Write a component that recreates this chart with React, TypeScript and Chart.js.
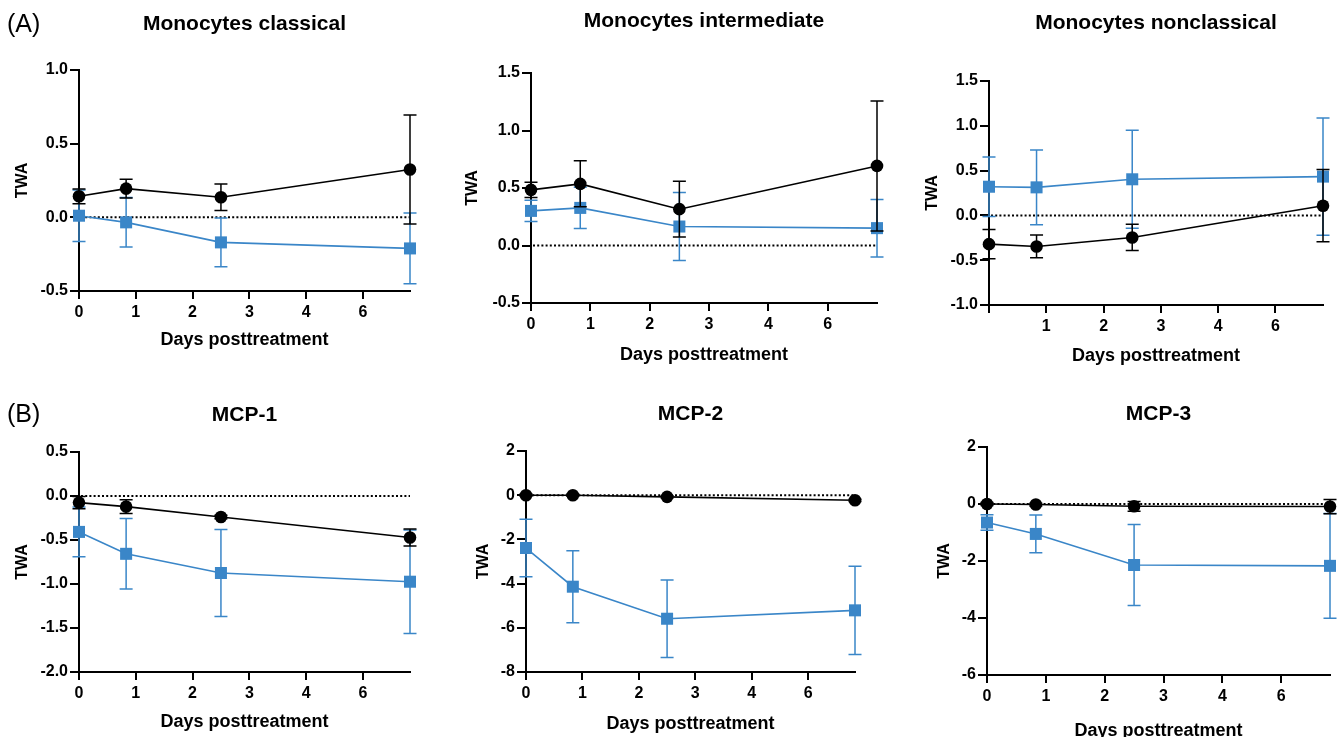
import React, { useEffect, useRef } from "react";
import { Chart, registerables } from "chart.js";

Chart.register(...registerables);

const FONT = "'Liberation Sans', Arial, Helvetica, sans-serif";
const BLACK = "#000000";
const BLUE = "#3A86C8";

// x positions of the sampling points on the (evenly spaced) day axis
const dayPositions = [0, 0.83, 2.5, 5.83];
const xTickPositions = [0, 1, 2, 3, 4, 5];
const xTickLabels = ["0", "1", "2", "3", "4", "6"];
const xTickLabelsNoZero = ["", "1", "2", "3", "4", "6"];

// Monocytes classical
const classicalBlack = [0.143, 0.195, 0.136, 0.325];
const classicalBlackErr = [0.05, 0.063, 0.09, 0.37];
const classicalBlue = [0.011, -0.034, -0.17, -0.211];
const classicalBlueErr = [0.175, 0.168, 0.165, 0.24];
const classicalYTicks = [-0.5, 0, 0.5, 1.0];

// Monocytes intermediate
const intermediateBlack = [0.484, 0.536, 0.316, 0.692];
const intermediateBlackErr = [0.067, 0.2, 0.243, 0.565];
const intermediateBlue = [0.301, 0.327, 0.165, 0.151];
const intermediateBlueErr = [0.093, 0.179, 0.295, 0.25];
const intermediateYTicks = [-0.5, 0, 0.5, 1.0, 1.5];

// Monocytes nonclassical
const nonclassicalBlack = [-0.321, -0.347, -0.246, 0.108];
const nonclassicalBlackErr = [0.164, 0.127, 0.146, 0.403];
const nonclassicalBlue = [0.32, 0.313, 0.403, 0.433];
const nonclassicalBlueErr = [0.333, 0.417, 0.547, 0.655];
const nonclassicalYTicks = [-1.0, -0.5, 0, 0.5, 1.0, 1.5];

// MCP-1
const mcp1Black = [-0.075, -0.121, -0.238, -0.472];
const mcp1BlackErr = [0.07, 0.079, 0.02, 0.096];
const mcp1Blue = [-0.408, -0.657, -0.875, -0.974];
const mcp1BlueErr = [0.282, 0.4, 0.495, 0.588];
const mcp1YTicks = [-2.0, -1.5, -1.0, -0.5, 0, 0.5];

// MCP-2
const mcp2Black = [0, 0.0, -0.075, -0.23];
const mcp2BlackErr = [0.05, 0.05, 0.05, 0.05];
const mcp2Blue = [-2.39, -4.14, -5.59, -5.21];
const mcp2BlueErr = [1.3, 1.63, 1.75, 2.0];
const mcp2YTicks = [-8, -6, -4, -2, 0, 2];

// MCP-3
const mcp3Black = [0, -0.02, -0.08, -0.09];
const mcp3BlackErr = [0.05, 0.05, 0.17, 0.25];
const mcp3Blue = [-0.65, -1.05, -2.14, -2.17];
const mcp3BlueErr = [0.27, 0.66, 1.42, 1.84];
const mcp3YTicks = [-6, -4, -2, 0, 2];

const panels = [
  {
    title: "Monocytes classical", yTicks: classicalYTicks, decimals: 1, xLabels: xTickLabels,
    black: classicalBlack, blackErr: classicalBlackErr, blue: classicalBlue, blueErr: classicalBlueErr,
    geom: { left: 0, top: 0, width: 450, height: 365, cl: 79, cr: 410, ct: 70, cb: 291, titleY: 24, twaX: 23, xTitleY: 340 },
  },
  {
    title: "Monocytes intermediate", yTicks: intermediateYTicks, decimals: 1, xLabels: xTickLabels,
    black: intermediateBlack, blackErr: intermediateBlackErr, blue: intermediateBlue, blueErr: intermediateBlueErr,
    geom: { left: 450, top: 0, width: 450, height: 370, cl: 81, cr: 427, ct: 73, cb: 303, titleY: 21, twaX: 23, xTitleY: 355 },
  },
  {
    title: "Monocytes nonclassical", yTicks: nonclassicalYTicks, decimals: 1, xLabels: xTickLabelsNoZero,
    black: nonclassicalBlack, blackErr: nonclassicalBlackErr, blue: nonclassicalBlue, blueErr: nonclassicalBlueErr,
    geom: { left: 900, top: 0, width: 441, height: 370, cl: 89, cr: 423, ct: 81, cb: 305, titleY: 23, twaX: 33, xTitleY: 356 },
  },
  {
    title: "MCP-1", yTicks: mcp1YTicks, decimals: 1, xLabels: xTickLabels,
    black: mcp1Black, blackErr: mcp1BlackErr, blue: mcp1Blue, blueErr: mcp1BlueErr,
    geom: { left: 0, top: 380, width: 450, height: 357, cl: 79, cr: 410, ct: 72, cb: 292, titleY: 35, twaX: 23, xTitleY: 342 },
  },
  {
    title: "MCP-2", yTicks: mcp2YTicks, decimals: 0, xLabels: xTickLabels,
    black: mcp2Black, blackErr: mcp2BlackErr, blue: mcp2Blue, blueErr: mcp2BlueErr,
    geom: { left: 450, top: 380, width: 450, height: 357, cl: 76, cr: 405, ct: 71, cb: 292, titleY: 34, twaX: 34, xTitleY: 344 },
  },
  {
    title: "MCP-3", yTicks: mcp3YTicks, decimals: 0, xLabels: xTickLabels,
    black: mcp3Black, blackErr: mcp3BlackErr, blue: mcp3Blue, blueErr: mcp3BlueErr,
    geom: { left: 900, top: 380, width: 441, height: 370, cl: 87, cr: 430, ct: 67, cb: 295, titleY: 34, twaX: 45, xTitleY: 351 },
  },
];

const errorBarPlugin = {
  id: "errorBars",
  beforeDatasetDraw(chart: any, args: any) {
    const ds = chart.data.datasets[args.index];
    const errs = ds.err;
    if (!errs) return;
    const { ctx } = chart;
    const xs = chart.scales.x;
    const ys = chart.scales.y;
    ctx.save();
    ctx.strokeStyle = ds.borderColor;
    ctx.lineWidth = 1.5;
    ds.data.forEach((pt: any, i: number) => {
      const px = xs.getPixelForValue(pt.x);
      const top = ys.getPixelForValue(pt.y + errs[i]);
      const bot = ys.getPixelForValue(pt.y - errs[i]);
      const cap = 6.5;
      ctx.beginPath();
      ctx.moveTo(px, top);
      ctx.lineTo(px, bot);
      ctx.moveTo(px - cap, top);
      ctx.lineTo(px + cap, top);
      ctx.moveTo(px - cap, bot);
      ctx.lineTo(px + cap, bot);
      ctx.stroke();
    });
    ctx.restore();
  },
};

const zeroLinePlugin = {
  id: "zeroLine",
  beforeDatasetsDraw(chart: any) {
    const { ctx, chartArea } = chart;
    const y0 = chart.scales.y.getPixelForValue(0);
    ctx.save();
    ctx.strokeStyle = BLACK;
    ctx.lineWidth = 2;
    ctx.setLineDash([2, 2.2]);
    ctx.beginPath();
    ctx.moveTo(chartArea.left + 2, y0);
    ctx.lineTo(chartArea.right, y0);
    ctx.stroke();
    ctx.restore();
  },
};

function Panel({ p }: { p: any }) {
  const ref = useRef<HTMLCanvasElement>(null);
  useEffect(() => {
    const g = p.geom;
    const titlePadTop = g.titleY - 12.6;
    const titlePadBottom = g.ct - titlePadTop - 25.2;
    const chart = new Chart(ref.current as HTMLCanvasElement, {
      type: "line",
      data: {
        datasets: [
          {
            label: "black",
            data: dayPositions.map((x, i) => ({ x, y: p.black[i] })),
            err: p.blackErr,
            borderColor: BLACK,
            backgroundColor: BLACK,
            pointBackgroundColor: BLACK,
            pointStyle: "circle",
            pointRadius: 6.3,
            pointBorderWidth: 0,
            borderWidth: 1.6,
            tension: 0,
            clip: false,
          } as any,
          {
            label: "blue",
            data: dayPositions.map((x, i) => ({ x, y: p.blue[i] })),
            err: p.blueErr,
            borderColor: BLUE,
            backgroundColor: BLUE,
            pointBackgroundColor: BLUE,
            pointStyle: "rect",
            pointRadius: 8.5,
            pointBorderWidth: 0,
            borderWidth: 1.6,
            tension: 0,
            clip: false,
          } as any,
        ],
      },
      options: {
        responsive: false,
        maintainAspectRatio: false,
        animation: false,
        events: [],
        layout: { padding: { left: 0, right: g.width - g.cr, top: 0, bottom: 0 } },
        plugins: {
          legend: { display: false },
          tooltip: { enabled: false },
          title: {
            display: true,
            text: p.title,
            fullSize: false,
            color: BLACK,
            font: { family: FONT, size: 21, weight: "bold", lineHeight: 1.2 },
            padding: { top: titlePadTop, bottom: titlePadBottom },
          },
        },
        scales: {
          x: {
            type: "linear",
            min: 0,
            max: dayPositions[dayPositions.length - 1],
            afterBuildTicks: (s: any) => {
              s.ticks = xTickPositions.map((v) => ({ value: v }));
            },
            afterFit: (s: any) => {
              s.height = g.height - g.cb;
            },
            grid: { display: true, drawOnChartArea: false, drawTicks: true, tickLength: 8, color: BLACK, lineWidth: 2 },
            border: { display: true, color: BLACK, width: 2 },
            ticks: {
              color: BLACK,
              font: { family: FONT, size: 16, weight: "bold", lineHeight: 1.2 },
              padding: 4,
              maxRotation: 0,
              autoSkip: false,
              callback: (v: any) => p.xLabels[xTickPositions.indexOf(Number(v))],
            },
            title: {
              display: true,
              text: "Days posttreatment",
              color: BLACK,
              font: { family: FONT, size: 18, weight: "bold", lineHeight: 1.2 },
              padding: { top: 0, bottom: g.height - g.xTitleY - 10.8 },
            },
          },
          y: {
            type: "linear",
            min: p.yTicks[0],
            max: p.yTicks[p.yTicks.length - 1],
            afterBuildTicks: (s: any) => {
              s.ticks = p.yTicks.map((v: number) => ({ value: v }));
            },
            afterFit: (s: any) => {
              s.width = g.cl;
            },
            grid: { display: true, drawOnChartArea: false, drawTicks: true, tickLength: 9, color: BLACK, lineWidth: 2 },
            border: { display: true, color: BLACK, width: 2 },
            ticks: {
              color: BLACK,
              font: { family: FONT, size: 16, weight: "bold", lineHeight: 1.2 },
              padding: 2,
              callback: (v: any) => Number(v).toFixed(p.decimals),
            },
            title: {
              display: true,
              text: "TWA",
              color: BLACK,
              font: { family: FONT, size: 16, weight: "bold", lineHeight: 1.2 },
              padding: { top: g.twaX - 9.6, bottom: 0 },
            },
          },
        },
      } as any,
      plugins: [zeroLinePlugin, errorBarPlugin],
    });
    return () => chart.destroy();
  }, [p]);
  const g = p.geom;
  return (
    <canvas
      ref={ref}
      width={g.width}
      height={g.height}
      style={{ position: "absolute", left: g.left, top: g.top, width: g.width, height: g.height }}
    />
  );
}

export default function App() {
  return (
    <div
      style={{
        position: "absolute",
        left: 0,
        top: 0,
        width: 1341,
        height: 737,
        overflow: "hidden",
        background: "#ffffff",
      }}
    >
      {panels.map((p) => (
        <Panel key={p.title} p={p} />
      ))}
      <div style={{ position: "absolute", left: 7, top: 8, fontFamily: FONT, fontSize: 25, lineHeight: "30px", color: BLACK }}>(A)</div>
      <div style={{ position: "absolute", left: 7, top: 398, fontFamily: FONT, fontSize: 25, lineHeight: "30px", color: BLACK }}>(B)</div>
    </div>
  );
}
